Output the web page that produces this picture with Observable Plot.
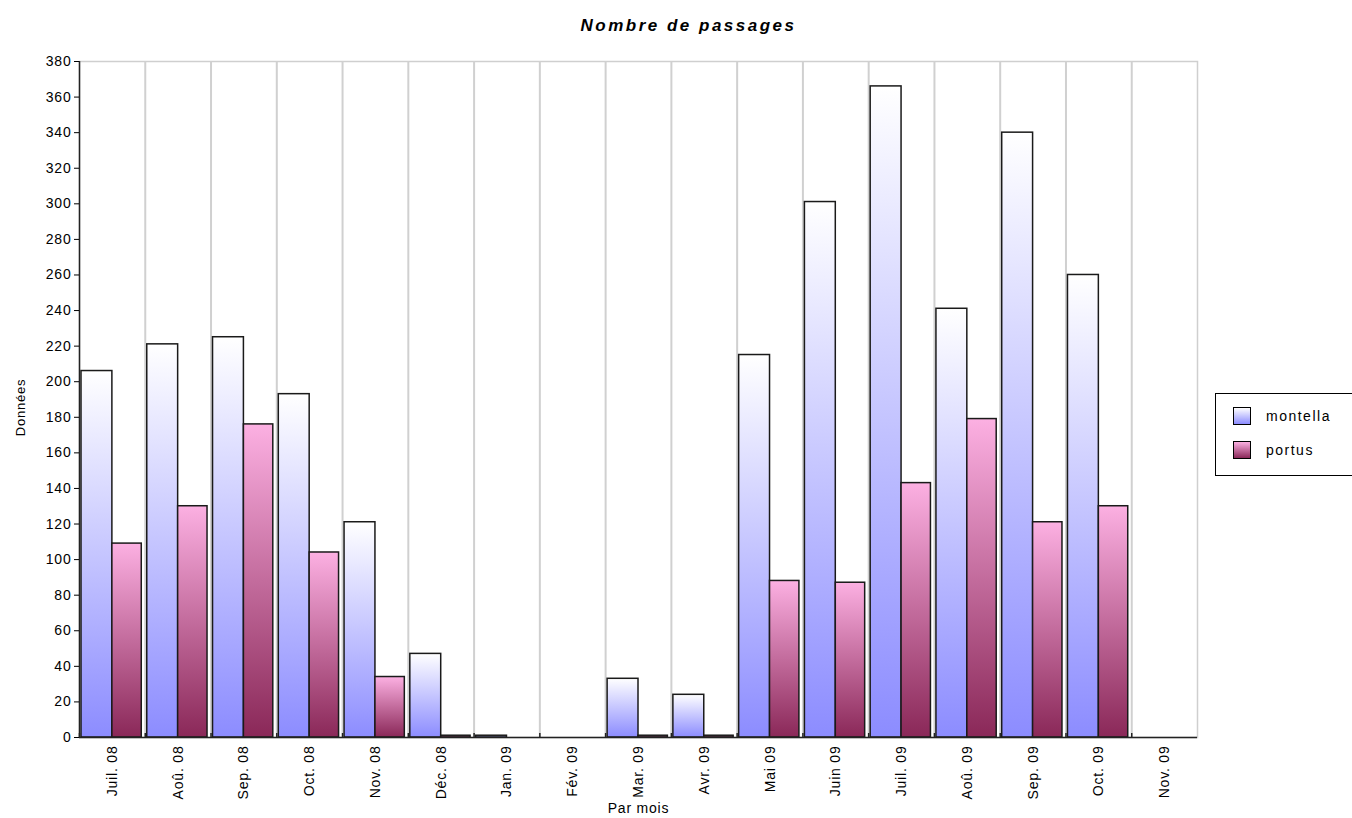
<!DOCTYPE html>
<html>
<head>
<meta charset="utf-8">
<script src="https://cdn.jsdelivr.net/npm/d3@7"></script>
<script src="https://cdn.jsdelivr.net/npm/@observablehq/plot@0.6"></script>
<style>
  html, body { margin: 0; padding: 0; background: #fff; overflow: hidden; }
  #wrap { position: relative; width: 1352px; height: 818px; font-family: "Liberation Sans", Arial, sans-serif; }
  #title { height: 45px; line-height: 52px; text-align: center; font-size: 17px; font-weight: bold; font-style: italic; letter-spacing: 2.5px; color: #000; padding-left: 25px; box-sizing: border-box; }
  #legend { position: absolute; left: 1215px; top: 393px; width: 160px; height: 83px; border: 1.5px solid #000; box-sizing: border-box; background: #fff; }
  .item { position: absolute; left: 17px; height: 18px; font-size: 14px; letter-spacing: 1.5px; line-height: 18px; }
  .sw { display: inline-block; width: 16px; height: 16px; border: 1px solid #000; vertical-align: top; margin-right: 15px; }
</style>
</head>
<body>
<svg width="0" height="0" style="position:absolute">
  <defs>
    <linearGradient id="gm" x1="0" y1="0" x2="0" y2="1">
      <stop offset="0" stop-color="#ffffff"/>
      <stop offset="1" stop-color="#8c8cff"/>
    </linearGradient>
    <linearGradient id="gp" x1="0" y1="0" x2="0" y2="1">
      <stop offset="0" stop-color="#fcb0e2"/>
      <stop offset="1" stop-color="#8a2858"/>
    </linearGradient>
  </defs>
</svg>
<div id="wrap">
  <div id="title">Nombre de passages</div>
  <div id="chart"></div>
  <div id="legend">
    <div class="item" style="top:13px"><span class="sw" style="background:linear-gradient(#ffffff,#8c8cff)"></span>montella</div>
    <div class="item" style="top:47px"><span class="sw" style="background:linear-gradient(#fcb0e2,#8a2858)"></span>portus</div>
  </div>
</div>
<script>
const months = ["Juil. 08","Aoû. 08","Sep. 08","Oct. 08","Nov. 08","Déc. 08","Jan. 09","Fév. 09","Mar. 09","Avr. 09","Mai 09","Juin 09","Juil. 09","Aoû. 09","Sep. 09","Oct. 09","Nov. 09"];
const montella = [206,221,225,193,121,47,1,0,33,24,215,301,366,241,340,260,0];
const portus   = [109,130,176,104,34,1,0,0,1,1,88,87,143,179,121,130,0];
const yTicks = [0,20,40,60,80,100,120,140,160,180,200,220,240,260,280,300,320,340,360,380];

const W = 1352, H = 773;
const mL = 79, mR = 155, mT = 16, mB = 81;
const bw = (W - mL - mR) / months.length;

const dataM = months.map((m, i) => ({month: m, value: montella[i]}));
const dataP = months.map((m, i) => ({month: m, value: portus[i]}));

const plot = Plot.plot({
  width: W, height: H,
  marginLeft: mL, marginRight: mR, marginTop: mT, marginBottom: mB,
  style: {fontFamily: "'Liberation Sans', Arial, sans-serif", fontSize: "13px", color: "#000", background: "#fff", letterSpacing: "0.8px"},
  x: {domain: months, padding: 0, round: false},
  y: {domain: [0, 380]},
  marks: [
    Plot.frame({stroke: "#cfcfcf", strokeWidth: 1.5}),
    Plot.ruleX(months.slice(1), {x: d => d, dx: -bw / 2, stroke: "#d0d0d0", strokeWidth: 2}),
    Plot.barY(dataM, {x: "month", y: "value", fill: "url(#gm)", stroke: "#1a1a1a", strokeWidth: 1.5, insetLeft: 2, insetRight: bw / 2}),
    Plot.barY(dataP, {x: "month", y: "value", fill: "url(#gp)", stroke: "#1a1a1a", strokeWidth: 1.5, insetLeft: bw / 2, insetRight: 3.5}),
    Plot.ruleY([0], {stroke: "#222", strokeWidth: 1.5}),
    Plot.ruleX([months[0]], {x: d => d, dx: -bw / 2, stroke: "#222", strokeWidth: 1.5}),
    Plot.ruleX(months, {x: d => d, dx: -bw / 2, y1: 0, y2: 0, insetTop: -4, stroke: "#222", strokeWidth: 1.5}),
    Plot.axisY({ticks: yTicks, tickSize: 5, tickPadding: 3, fontSize: 14, label: null}),
    Plot.text(["Données"], {text: d => d, frameAnchor: "left", textAnchor: "middle", dx: -59, dy: 8, rotate: -90, fontSize: 13}),
    Plot.axisX({tickRotate: -90, tickSize: 0, tickPadding: 8, fontSize: 14, label: "Par mois", labelAnchor: "center", labelOffset: 75})
  ]
});
document.getElementById("chart").appendChild(plot);
</script>
</body>
</html>
